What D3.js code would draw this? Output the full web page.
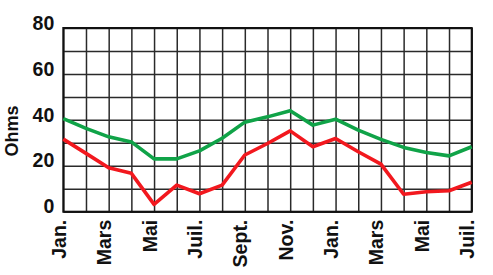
<!DOCTYPE html>
<html>
<head>
<meta charset="utf-8">
<script src="https://cdn.jsdelivr.net/npm/d3@7"></script>
<style>
  html, body { margin: 0; padding: 0; background: #fff; }
  svg { display: block; }
  text { font-family: "Liberation Sans", Arial, Helvetica, sans-serif; font-weight: bold; fill: #111; }
</style>
</head>
<body>
<svg id="chart" width="493" height="275"></svg>
<script>
const months = ["Jan.","Févr.","Mars","Avr.","Mai","Juin","Juil.","Août","Sept.","Oct.","Nov.","Déc.",
                "Jan.","Févr.","Mars","Avr.","Mai","Juin","Juil."];
const green = [40.5, 36.3, 32.6, 30.4, 23, 23, 26.5, 32, 39, 41.3, 44, 37.7, 40.3, 35.5, 31.5, 28, 25.8, 24.3, 28.3];
const red   = [31.6, 25.4, 19.1, 16.7, 3.2, 11.6, 7.8, 11.6, 24.7, 29.7, 35.2, 28.3, 31.9, 26.1, 20.7, 7.6, 8.7, 9.1, 12.8];
const yTicks = [0, 10, 20, 30, 40, 50, 60, 70, 80];
const yLabelEvery = 20;
const yTitle = "Ohms";

const svg = d3.select("#chart");
const L = 63.3, R = 471.7, T = 28, B = 211.7;
const idx = d3.range(months.length);
const x = d3.scalePoint().domain(idx).range([L, R]);
const y = d3.scaleLinear().domain([0, 80]).range([B, T]);

// y grid + labels
const gy = svg.append("g").attr("transform", `translate(${L},0)`)
  .call(d3.axisLeft(y).tickValues(yTicks).tickSize(-(R - L)).tickPadding(9)
    .tickFormat(d => d % yLabelEvery === 0 ? d : ""));
gy.select(".domain").remove();
gy.selectAll(".tick line").attr("stroke", "#2a2a2a").attr("stroke-width", 1.5);
gy.selectAll(".tick text").attr("dy", "0.06em").style("font-size", "19.5px").attr("fill", "#111");

// x grid + labels
const gx = svg.append("g").attr("transform", `translate(0,${B})`)
  .call(d3.axisBottom(x).tickSize(-(B - T))
    .tickFormat(i => i % 2 === 0 ? months[i] : ""));
gx.select(".domain").remove();
gx.selectAll(".tick line").attr("stroke", "#2a2a2a").attr("stroke-width", 1.5);
gx.selectAll(".tick text")
  .attr("transform", "rotate(-90)")
  .attr("x", -8).attr("y", 2).attr("dy", 0)
  .attr("text-anchor", "end")
  .style("font-size", "19.5px").attr("fill", "#111");

// frame
svg.append("rect").attr("x", L).attr("y", T).attr("width", R - L).attr("height", B - T)
  .attr("fill", "none").attr("stroke", "#111").attr("stroke-width", 2);

// lines
const line = d3.line().x((d, i) => x(i)).y(d => y(d));
svg.append("path").datum(green).attr("d", line)
  .attr("fill", "none").attr("stroke", "#10a348").attr("stroke-width", 3.6)
  .attr("stroke-linejoin", "round");
svg.append("path").datum(red).attr("d", line)
  .attr("fill", "none").attr("stroke", "#f2181e").attr("stroke-width", 3.6)
  .attr("stroke-linejoin", "round");

// y title
svg.append("text").attr("transform", "translate(18,131) rotate(-90)")
  .attr("text-anchor", "middle").style("font-size", "18px").text(yTitle);
</script>
</body>
</html>
